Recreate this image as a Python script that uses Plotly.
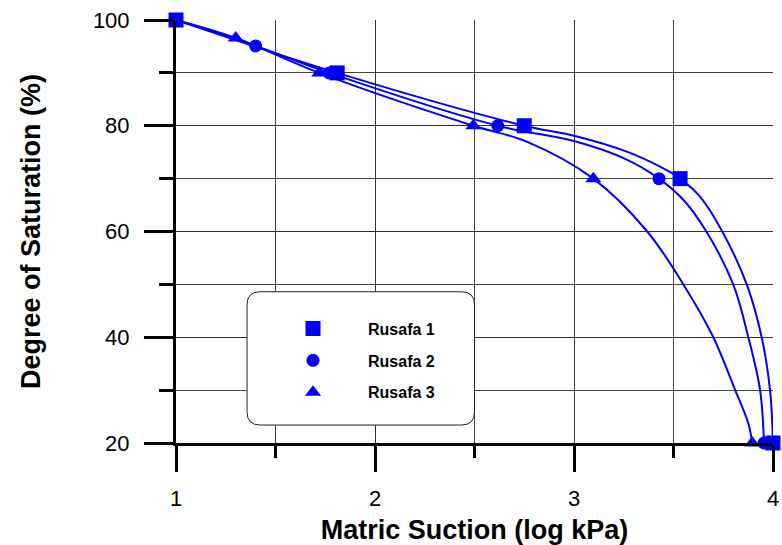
import plotly.graph_objects as go

# ---- data ----
series_names = ["Rusafa 1", "Rusafa 2", "Rusafa 3"]

# marker points (log kPa, %)
r1_x = [1.00, 1.81, 2.75, 3.533, 4.00]
r1_y = [100, 90, 80, 70, 20]
r2_x = [1.40, 1.77, 2.617, 3.427, 3.955]
r2_y = [95.1, 90, 80, 70, 20]
r3_x = [1.30, 1.72, 2.494, 3.097, 3.896]
r3_y = [96.6, 90, 80, 70, 20]

# fitted curves
c1_x = [1.00, 1.81, 2.75, 3.00, 3.265, 3.43, 3.533, 3.633, 3.745, 3.868, 3.943, 3.985, 4.00]
c1_y = [100, 90, 80, 78.1, 75.1, 72.3, 70, 66.6, 60, 50, 40, 30, 20]
c2_x = [1.00, 1.40, 1.77, 2.617, 3.00, 3.265, 3.427, 3.549, 3.665, 3.80, 3.876, 3.935, 3.955]
c2_y = [100, 95.1, 90, 80, 77.1, 73.6, 70, 66, 60, 50, 40, 30, 20]
c3_x = [1.00, 1.30, 1.72, 2.494, 2.762, 3.097, 3.368, 3.566, 3.700, 3.810, 3.876, 3.896]
c3_y = [100, 96.6, 90, 80, 77.0, 70, 60, 49, 40, 30, 23.7, 20]

x_ticks = [1, 2, 3, 4]
y_ticks = [20, 40, 60, 80, 100]

BLUE = "#0000FF"
FONT = "Liberation Sans, Arial, sans-serif"

fig = go.Figure()

curves = [(c3_x, c3_y), (c2_x, c2_y), (c1_x, c1_y)]
for cx, cy in curves:
    fig.add_trace(go.Scatter(x=cx, y=cy, mode="lines",
                             line=dict(color=BLUE, width=2, shape="spline", smoothing=1.0),
                             showlegend=False, hoverinfo="skip", cliponaxis=False))

marker_sets = [
    (r3_x, r3_y, series_names[2], "triangle-up", 14, 3),
    (r2_x, r2_y, series_names[1], "circle", 13, 2),
    (r1_x, r1_y, series_names[0], "square", 15, 1),
]
for mx, my, nm, sym, sz, rank in marker_sets:
    fig.add_trace(go.Scatter(x=mx, y=my, mode="markers", name=nm, legendgroup=nm,
                             legendrank=rank,
                             marker=dict(color=BLUE, symbol=sym, size=sz, line=dict(width=0)),
                             cliponaxis=False))

# rounded legend box (data coordinates)
x0, x1, y0, y1 = 1.357, 2.50, 23.4, 48.6
rx, ry = 0.065, 2.45
path = (f"M {x0+rx},{y1} L {x1-rx},{y1} Q {x1},{y1} {x1},{y1-ry} "
        f"L {x1},{y0+ry} Q {x1},{y0} {x1-rx},{y0} "
        f"L {x0+rx},{y0} Q {x0},{y0} {x0},{y0+ry} "
        f"L {x0},{y1-ry} Q {x0},{y1} {x0+rx},{y1} Z")
fig.add_shape(type="path", path=path, xref="x", yref="y", layer="above",
              fillcolor="white", line=dict(color="#222222", width=1))

fig.update_layout(
    width=782, height=545,
    margin=dict(l=176, r=9, t=20, b=102, autoexpand=False),
    paper_bgcolor="white", plot_bgcolor="white",
    font=dict(family=FONT, color="black"),
    legend=dict(x=(258 - 176) / 597, y=0.3105, xanchor="left", yanchor="top",
                bgcolor="rgba(0,0,0,0)", borderwidth=0,
                font=dict(family=FONT, size=16, color="black", weight="bold"),
                itemwidth=100, traceorder="grouped", tracegroupgap=8),
    xaxis=dict(range=[1, 4], tickvals=x_ticks, ticktext=[str(v) for v in x_ticks],
               automargin=False,
               showline=True, linecolor="black", linewidth=3,
               ticks="outside", ticklen=26, tickwidth=3, tickcolor="black",
               tickfont=dict(family=FONT, size=22, color="black"),
               ticklabelstandoff=8,
               showgrid=True, gridcolor="#333333", gridwidth=1, zeroline=False,
               minor=dict(dtick=0.5, tick0=1, ticks="outside", ticklen=12, tickwidth=3,
                          tickcolor="black", showgrid=True, gridcolor="#444444", gridwidth=1),
               title=dict(text="Matric Suction (log kPa)", standoff=12,
                          font=dict(family=FONT, size=27, color="black", weight="bold"))),
    yaxis=dict(range=[20, 100], tickvals=y_ticks, ticktext=[str(v) for v in y_ticks],
               automargin=False,
               showline=True, linecolor="black", linewidth=3,
               ticks="outside", ticklen=29, tickwidth=3, tickcolor="black",
               tickfont=dict(family=FONT, size=22, color="black"),
               ticklabelstandoff=10,
               showgrid=True, gridcolor="#333333", gridwidth=1, zeroline=False,
               minor=dict(dtick=10, tick0=20, ticks="outside", ticklen=14, tickwidth=3,
                          tickcolor="black", showgrid=True, gridcolor="#444444", gridwidth=1),
               title=dict(text="Degree of Saturation (%)", standoff=45,
                          font=dict(family=FONT, size=27, color="black", weight="bold"))),
)

fig.write_html("out.html")
